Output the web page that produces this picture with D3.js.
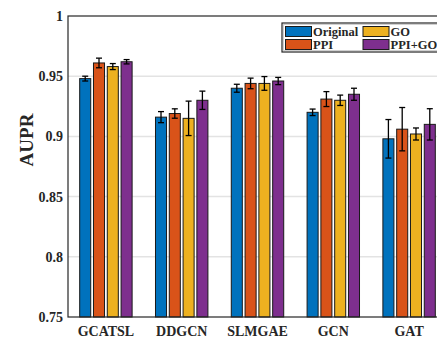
<!DOCTYPE html>
<html>
<head>
<meta charset="utf-8">
<script src="https://cdn.jsdelivr.net/npm/d3@7"></script>
<style>
  body { margin: 0; background: #fff; }
  text { font-family: "Liberation Serif", "Times New Roman", serif; font-weight: bold; fill: #262626; }
</style>
</head>
<body>
<svg id="graph" width="437" height="340"></svg>
<script>
var categories = ["GCATSL", "DDGCN", "SLMGAE", "GCN", "GAT"];
var seriesNames = ["Original", "PPI", "GO", "PPI+GO"];
var original = [0.948, 0.916, 0.940, 0.920, 0.898];
var ppi      = [0.961, 0.919, 0.944, 0.931, 0.906];
var go       = [0.958, 0.915, 0.944, 0.930, 0.902];
var ppiGo    = [0.962, 0.930, 0.946, 0.935, 0.910];
var errOriginal = [0.0020, 0.0046, 0.0033, 0.0027, 0.016];
var errPpi      = [0.0040, 0.0039, 0.0044, 0.0062, 0.018];
var errGo       = [0.0025, 0.0143, 0.0057, 0.0043, 0.005];
var errPpiGo    = [0.0018, 0.0076, 0.0030, 0.0050, 0.013];
var yTicks = [0.75, 0.8, 0.85, 0.9, 0.95, 1];
var yTickLabels = ["0.75", "0.8", "0.85", "0.9", "0.95", "1"];

var colors = ["#0072BD", "#D95319", "#EDB120", "#7E2F8E"];
var values = [original, ppi, go, ppiGo];
var errors = [errOriginal, errPpi, errGo, errPpiGo];

var graph = d3.select("#graph"),
	pLeft = 68, pRight = 447, pTop = 16, pBottom = 317;

var x0 = d3.scaleBand().domain(categories).range([pLeft, pRight]);
var bw = x0.bandwidth();
var x1 = d3.scaleBand().domain(seriesNames)
	.range([-bw * 0.364, bw * 0.364])
	.paddingInner(0.2).paddingOuter(0.1);
var y = d3.scaleLinear().domain([0.75, 1]).range([pBottom, pTop]);

// grid
graph.append("g").selectAll("line")
	.data(yTicks.slice(1, -1))
	.enter().append("line")
		.attr("x1", pLeft).attr("x2", pRight)
		.attr("y1", function(d) { return y(d); })
		.attr("y2", function(d) { return y(d); })
		.attr("stroke", "#e3e3e3").attr("stroke-width", 1.5);

// bars
var rows = [];
categories.forEach(function(c, i) {
	seriesNames.forEach(function(s, j) {
		rows.push({cat: c, ser: s, j: j, v: values[j][i], e: errors[j][i]});
	});
});

graph.append("g").selectAll("rect")
	.data(rows)
	.enter().append("rect")
		.attr("x", function(d) { return x0(d.cat) + bw / 2 + x1(d.ser); })
		.attr("y", function(d) { return y(d.v); })
		.attr("width", x1.bandwidth())
		.attr("height", function(d) { return y(0.75) - y(d.v); })
		.attr("fill", function(d) { return colors[d.j]; })
		.attr("stroke", "#1a1a1a").attr("stroke-width", 1);

// error bars
var eb = graph.append("g").selectAll("g")
	.data(rows)
	.enter().append("g")
		.attr("transform", function(d) { return "translate(" + (x0(d.cat) + bw / 2 + x1(d.ser) + x1.bandwidth() / 2) + ",0)"; });
eb.append("line")
	.attr("y1", function(d) { return y(d.v + d.e); })
	.attr("y2", function(d) { return y(d.v - d.e); })
	.attr("stroke", "#000").attr("stroke-width", 1.3);
eb.append("line")
	.attr("x1", -3).attr("x2", 3)
	.attr("y1", function(d) { return y(d.v + d.e); })
	.attr("y2", function(d) { return y(d.v + d.e); })
	.attr("stroke", "#000").attr("stroke-width", 1.3);
eb.append("line")
	.attr("x1", -3).attr("x2", 3)
	.attr("y1", function(d) { return y(d.v - d.e); })
	.attr("y2", function(d) { return y(d.v - d.e); })
	.attr("stroke", "#000").attr("stroke-width", 1.3);

// frame
graph.append("rect")
	.attr("x", pLeft).attr("y", pTop)
	.attr("width", pRight - pLeft).attr("height", pBottom - pTop)
	.attr("fill", "none").attr("stroke", "#262626").attr("stroke-width", 1.2);

// y tick labels
graph.append("g").selectAll("text")
	.data(yTicks)
	.enter().append("text")
		.attr("x", pLeft - 5)
		.attr("y", function(d) { return y(d); })
		.attr("dy", "0.35em")
		.attr("text-anchor", "end")
		.attr("font-size", 14)
		.text(function(d, i) { return yTickLabels[i]; });

// x labels
graph.append("g").selectAll("text")
	.data(categories)
	.enter().append("text")
		.attr("x", function(d) { return x0(d) + bw / 2; })
		.attr("y", pBottom + 19)
		.attr("text-anchor", "middle")
		.attr("font-size", 14)
		.text(function(d) { return d; });

graph.append("text")
	.attr("transform", "translate(33,140) rotate(-90)")
	.attr("text-anchor", "middle")
	.attr("font-size", 19)
	.text("AUPR");

// legend
var lg = graph.append("g").attr("transform", "translate(282,23)");
lg.append("rect")
	.attr("width", 170).attr("height", 29)
	.attr("fill", "#fff").attr("stroke", "#262626").attr("stroke-width", 1.2);
lg.append("rect")
	.attr("x", 1.5).attr("y", 1.5)
	.attr("width", 167).attr("height", 26)
	.attr("fill", "none").attr("stroke", "#d0d0d0").attr("stroke-width", 1);
var legendPos = [[3.5, 3.5], [3.5, 16.5], [81, 3.5], [81, 16.5]];
seriesNames.forEach(function(s, j) {
	var p = legendPos[j];
	lg.append("rect")
		.attr("x", p[0]).attr("y", p[1])
		.attr("width", 26).attr("height", 10)
		.attr("fill", colors[j]).attr("stroke", "#1a1a1a").attr("stroke-width", 1);
	lg.append("text")
		.attr("x", p[0] + 27.5).attr("y", p[1] + 9.5)
		.attr("font-size", 12.5)
		.text(s);
});
</script>
</body>
</html>
